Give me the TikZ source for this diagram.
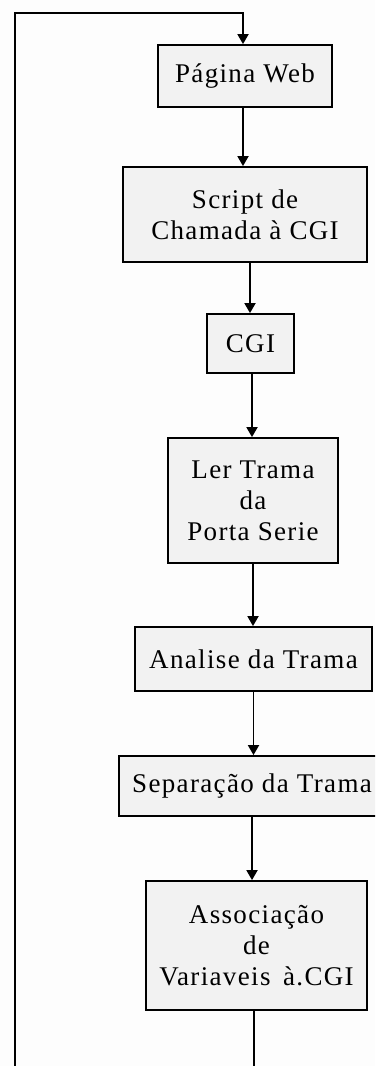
\documentclass[tikz,border=0pt]{standalone}
\usepackage{fontspec}
\setmainfont[LetterSpace=5]{Liberation Serif}
\usetikzlibrary{arrows.meta}
\definecolor{boxfill}{RGB}{242,242,242}
\definecolor{bg}{RGB}{253,253,253}
\tikzset{
  stepbox/.style={draw=black, line width=1.8pt, fill=boxfill, align=center,
    inner sep=0pt, font=\fontsize{27}{31}\selectfont},
  flow/.style={line width=1.8pt, -{Triangle[width=11pt,length=10pt]}},
  plain/.style={line width=1.8pt}
}
\begin{document}
\begin{tikzpicture}[x=1pt,y=-1pt]
\fill[bg] (0,0) rectangle (375,1066);
\useasboundingbox (0,0) rectangle (375,1066);
\begin{scope}
\clip (0,0) rectangle (375,1066);
\node[stepbox, minimum width=174pt, minimum height=62pt] (web) at (245,76) {Página Web};
\node[stepbox, minimum width=244pt, minimum height=95pt] (script) at (245,214.5) {Script de\\Chamada à CGI};
\node[stepbox, minimum width=87pt, minimum height=59pt] (cgi) at (250.5,343.5) {CGI};
\node[stepbox, minimum width=170pt, minimum height=125pt] (ler) at (253,500.5) {Ler Trama\\da\\Porta Serie};
\node[stepbox, minimum width=237pt, minimum height=64pt] (analise) at (253.5,659) {Analise da Trama};
\node[stepbox, minimum width=266pt, minimum height=60pt] (separ) at (252,786) {Separação da Trama};
\node[stepbox, minimum width=221pt, minimum height=129pt] (assoc) at (256.5,945.5) {Associação\\de\\Variaveis\, à.CGI};

\draw[flow] ([xshift=-2pt]web.south) -- ([xshift=-2pt]web.south |- script.north);
\draw[flow] ([xshift=5pt]script.south) -- ([xshift=5pt]script.south |- cgi.north);
\draw[flow] ([xshift=1.5pt]cgi.south) -- ([xshift=1.5pt]cgi.south |- ler.north);
\draw[flow] (ler.south) -- (ler.south |- analise.north);
\draw[flow] (analise.south) -- (analise.south |- separ.north);
\draw[flow] (separ.south) -- (separ.south |- assoc.north);

\coordinate (bot) at (254,1068);
\coordinate (lb) at (15,1068);
\coordinate (lt) at (15,13);
\draw[plain] ([xshift=-2.5pt]assoc.south) -- ([xshift=-2.5pt]assoc.south |- bot);
\draw[flow] (lb) -- (lt) -| ([xshift=-2pt]web.north);
\end{scope}
\end{tikzpicture}
\end{document}
